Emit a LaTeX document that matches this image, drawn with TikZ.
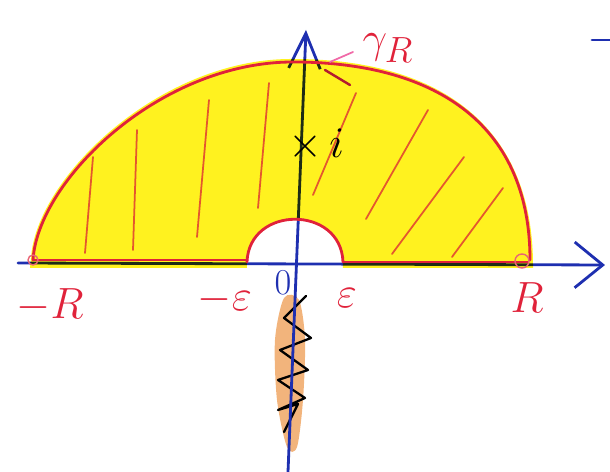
\documentclass[tikz,border=0pt]{standalone}
\usetikzlibrary{arrows.meta}
\definecolor{CutYellow}{HTML}{FFF21F}
\definecolor{CutRed}{HTML}{E0223A}
\definecolor{CutHatch}{HTML}{E4572E}
\definecolor{CutBlue}{HTML}{1E2FB0}
\definecolor{CutOrange}{HTML}{F2B47C}
\definecolor{CutPink}{HTML}{F06AA8}

\begin{document}
\begin{tikzpicture}[x=0.02cm, y=-0.02cm, line cap=round, line join=round,
    axis/.style={CutBlue, line width=1.6pt},
    edge/.style={CutRed, line width=1.6pt},
    hatch/.style={CutHatch, line width=1pt},
    lbl/.style={CutRed, font=\fontsize{28}{28}\selectfont}]
    \useasboundingbox (0,0) rectangle (610,472);

    % Branch cut below the origin
    \fill[CutOrange] plot[smooth cycle] coordinates {(284,298) (299,300) (305,340) (303,400) (297,447) (287,447) (277,400) (275,340)};
    \draw[black, line width=1.3pt] plot coordinates {(306,296) (284,318) (311,338) (280,350) (308,370) (278,380) (305,398) (278,410) (298,404) (284,432)};

    % Axes
    \coordinate (xl) at (18,263);
    \coordinate (xr) at (605,265);
    \coordinate (yb) at (288,472);
    \coordinate (yt) at (306,30);
    \draw[axis, -{Straight Barb[length=16pt, width=26pt]}] (xl) -- (xr);
    \draw[axis, -{Straight Barb[length=20pt, width=18pt]}] (yb) -- (yt);
    \draw[axis] (592,40) -- (610,40);

    % Shaded region
    \begin{scope}[blend mode=multiply]
        \fill[CutYellow] (30,268) -- (31,258) .. controls (36,178) and (160,58) .. (293,59)
            .. controls (432,59) and (534,120) .. (533,268) -- (343,268) -- (343,262)
            .. controls (341,205) and (249,205) .. (247,262) -- (247,268) -- cycle;
    \end{scope}

    % Contour
    \draw[edge] (33,260) .. controls (38,180) and (160,62) .. (293,62)
        .. controls (430,62) and (530,120) .. (530,260);
    \draw[edge] (343,262) .. controls (341,205) and (249,205) .. (247,262);
    \draw[edge] (33,260) -- (247,260);
    \draw[edge] (343,262) -- (528,262);
    \draw[CutRed!70, line width=0.8pt] (33,260) circle (5);
    \draw[CutRed!70, line width=0.8pt] (522,261) circle (7);
    \draw[CutRed!80!black, line width=1.4pt] (325,70) -- (350,85);
    \draw[CutPink, line width=1pt] (330,62) -- (353,52);

    % Hatching
    \foreach \xa/\ya/\xb/\yb in {93/157/85/253, 137/130/133/250, 209/100/197/237, 269/83/258/208,
        356/93/313/195, 428/110/366/219, 464/157/392/254, 503/188/452/257}
        \draw[hatch] (\xa,\ya) -- (\xb,\yb);

    % Labels
    \node[lbl] (gammaR) at (388,48) {$\gamma_R$};
    \node[font=\fontsize{24}{24}\selectfont] (ptI) at (316,145) {$\times\, i$};
    \node[lbl] (mR) at (50,305) {$-R$};
    \node[lbl] (mEps) at (225,300) {$-\varepsilon$};
    \node[CutBlue, font=\fontsize{20}{20}\selectfont] (orig) at (283,283) {$0$};
    \node[lbl] (eps) at (347,298) {$\varepsilon$};
    \node[lbl] (R) at (527,298) {$R$};
\end{tikzpicture}
\end{document}
